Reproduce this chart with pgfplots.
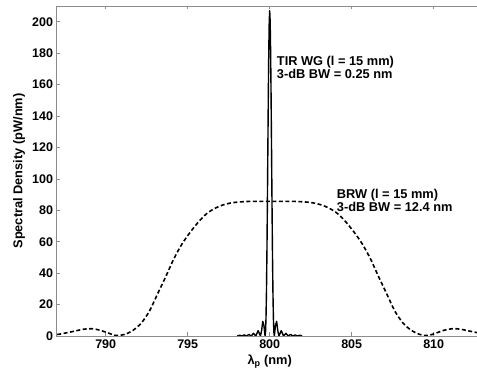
\documentclass[border=0pt]{standalone}
\usepackage{fontspec}
\setmainfont{Liberation Sans}
\usepackage{pgfplots}
\pgfplotsset{compat=1.18}
\begin{document}
\begin{tikzpicture}
\begin{axis}[
  scale only axis,
  width=426.4pt, height=330pt,
  xmin=787, xmax=813, ymin=0, ymax=210,
  xtick={790,795,800,805,810},
  ytick={0,20,...,200},
  tick align=inside,
  major tick length=3.5pt,
  axis line style={black!45, line width=0.7pt},
  every tick/.style={black!45, line width=0.6pt},
  /pgf/number format/assume math mode=true,
  ticklabel style={font=\fontsize{12.5}{14}\selectfont\bfseries},
  xlabel={λ\textsubscript{p} (nm)},
  ylabel={Spectral Density (pW/nm)},
  label style={font=\fontsize{12.8}{14}\selectfont\bfseries},
  xlabel style={at={(axis description cs:0.5,-0.077)}, anchor=center},
  ylabel style={at={(axis description cs:-0.088,0.5)}, anchor=center},
  clip=true,
]
% BRW (dashed)
\addplot[black, line width=1.6pt, dash pattern=on 4pt off 2.5pt, smooth] coordinates {
(786.65,0.5) (787.15,1.1) (787.65,2.1) (788.15,3.2) (788.65,4.3) (789.15,4.65)
(789.65,3.7) (790.15,1.9) (790.65,0.3) (791.15,1.0) (791.65,3.5) (792.15,8)
(792.65,15.5) (793.15,26.5) (793.65,37.5) (794.15,49) (794.65,58.5) (795.15,66)
(795.65,72.5) (796.15,77.8) (796.65,81.2) (797.15,83.4) (797.65,84.7) (798.15,85.3)
(798.65,85.6) (799.15,85.7) (799.65,85.7) (800.15,85.7) (800.65,85.7) (801.15,85.7)
(801.65,85.6) (802.15,85.3) (802.65,84.7) (803.15,83.4) (803.65,81.2) (804.15,77.8)
(804.65,72.5) (805.15,66) (805.65,58.5) (806.15,49) (806.65,37.5) (807.15,26.5)
(807.65,15.5) (808.15,8) (808.65,3.5) (809.15,1.0) (809.65,0.3) (810.15,1.9)
(810.65,3.7) (811.15,4.65) (811.65,4.3) (812.15,3.2) (812.65,2.1) (813.15,1.1)
};
% TIR WG (solid)
\addplot[black, line width=1.4pt, line join=round] coordinates {
(798.026,0) (798.167,0.5) (798.308,0) (798.449,0.7) (798.59,0) (798.731,1.0)
(798.872,0) (799.013,1.7) (799.154,0) (799.295,3.4) (799.436,0) (799.5065,3.4)
(799.577,9.3) (799.6475,6.7) (799.718,0) (799.7462,2.5) (799.7744,11.3)
(799.8026,28.0) (799.8308,52.7) (799.859,83.9) (799.8872,118.6) (799.9154,152.5)
(799.9436,181.2) (799.9718,200.3) (800,207) (800.0282,200.3) (800.0564,181.2)
(800.0846,152.5) (800.1128,118.6) (800.141,83.9) (800.1692,52.7) (800.1974,28.0)
(800.2256,11.3) (800.2538,2.5) (800.282,0) (800.3525,6.7) (800.423,9.3)
(800.4935,3.4) (800.564,0) (800.705,3.4) (800.846,0) (800.987,1.7) (801.128,0)
(801.269,1.0) (801.41,0) (801.551,0.7) (801.692,0) (801.833,0.5) (801.974,0)
};
\node[anchor=west, align=left, inner sep=0pt, font=\fontsize{12.8}{13.4}\selectfont\bfseries]
  at (axis cs:800.43,171) {TIR WG (l = 15 mm)\\3-dB BW = 0.25 nm};
\node[anchor=west, align=left, inner sep=0pt, font=\fontsize{12.8}{13.4}\selectfont\bfseries]
  at (axis cs:804.09,86.4) {BRW (l = 15 mm)\\3-dB BW = 12.4 nm};
\end{axis}
\pgfresetboundingbox
\path ([xshift=-56.5pt,yshift=-32.3pt]current axis.south west) rectangle ([xshift=420.5pt,yshift=6pt]current axis.north west);
\end{tikzpicture}
\end{document}
